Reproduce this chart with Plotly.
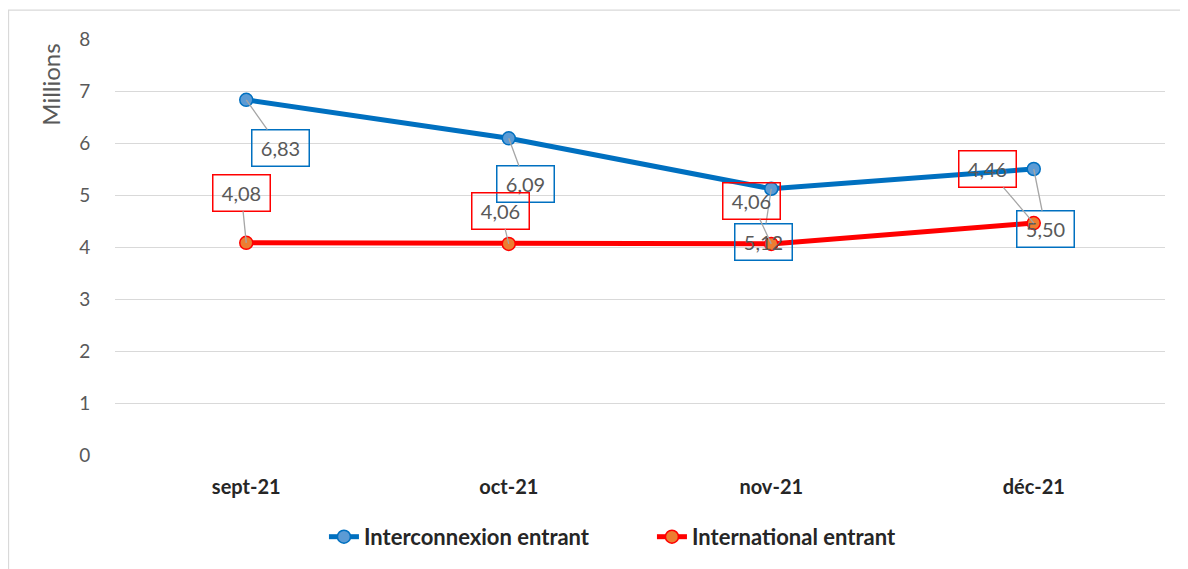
import plotly.graph_objects as go

months = ["sept-21", "oct-21", "nov-21", "déc-21"]
interconnexion = [6.83, 6.09, 5.12, 5.50]
international = [4.08, 4.06, 4.06, 4.46]
inter_labels = ["6,83", "6,09", "5,12", "5,50"]
intl_labels = ["4,08", "4,06", "4,06", "4,46"]
y_ticks = [0, 1, 2, 3, 4, 5, 6, 7, 8]

# label offsets (pixels) for callout boxes
inter_off = [(34, 48), (17, 46), (-8, 53), (12, 60)]
intl_off = [(-5, -50), (-8, -33), (-20, -43), (-46, -54)]

BLUE = "#0070C0"
RED = "#FF0000"
FONT = "Lato"

fig = go.Figure()
fig.add_trace(go.Scatter(
    x=months, y=interconnexion, mode="lines+markers", name="Interconnexion entrant",
    line=dict(color=BLUE, width=5),
    marker=dict(size=13, color="#5B9BD5", line=dict(color=BLUE, width=1.5)),
))
fig.add_trace(go.Scatter(
    x=months, y=international, mode="lines+markers", name="International entrant",
    line=dict(color=RED, width=5),
    marker=dict(size=13, color="#ED7D31", line=dict(color=RED, width=1.5)),
))

annotations = []
for vals, labels, offs, col in [(interconnexion, inter_labels, inter_off, BLUE),
                                (international, intl_labels, intl_off, RED)]:
    for m, v, t, (ax, ay) in zip(months, vals, labels, offs):
        annotations.append(dict(
            x=m, y=v, text=t, showarrow=True, arrowhead=0, arrowwidth=1.3,
            arrowcolor="#A6A6A6", ax=ax, ay=ay, standoff=0,
            font=dict(family=FONT, size=20, color="#595959"),
            bordercolor=col, borderwidth=1.5, borderpad=5,
            width=46, height=25, bgcolor="rgba(0,0,0,0)",
        ))

# display-unit label placed near the top of the value axis
annotations.append(dict(
    text="Millions", xref="paper", yref="paper", x=-0.061, y=0.89,
    xanchor="center", yanchor="middle", textangle=-90, showarrow=False,
    font=dict(family=FONT, size=24, color="#595959"),
))

fig.update_layout(
    width=1180, height=561,
    margin=dict(l=107, r=23, t=31, b=113),
    paper_bgcolor="white",
    plot_bgcolor="rgba(0,0,0,0)",
    font=dict(family=FONT),
    showlegend=True,
    legend=dict(orientation="h", x=0.199, xanchor="left", y=-0.194, yanchor="middle",
                font=dict(family=FONT, size=22, color="#262626", weight="bold"),
                entrywidth=283, entrywidthmode="pixels",
                traceorder="normal", bgcolor="rgba(0,0,0,0)"),
    annotations=annotations,
    shapes=[dict(type="rect", xref="paper", yref="paper", x0=-0.1014, x1=1.05,
                 y0=-0.3, y1=1.0695, fillcolor="white",
                 line=dict(color="#D9D9D9", width=1.2), layer="below")],
)
fig.update_xaxes(
    type="category", range=[-0.5, 3.5], showgrid=False, zeroline=False, showline=False,
    ticks="outside", ticklen=14, tickcolor="rgba(0,0,0,0)",
    tickfont=dict(family=FONT, size=20, color="#262626", weight="bold"),
)
fig.update_yaxes(
    range=[0, 8], tickvals=y_ticks, showgrid=True, gridcolor="#D9D9D9", gridwidth=1.3,
    zeroline=False, showline=False,
    ticks="outside", ticklen=20, tickcolor="rgba(0,0,0,0)",
    tickfont=dict(family=FONT, size=19, color="#595959"),
)

fig.write_html("out.html")
